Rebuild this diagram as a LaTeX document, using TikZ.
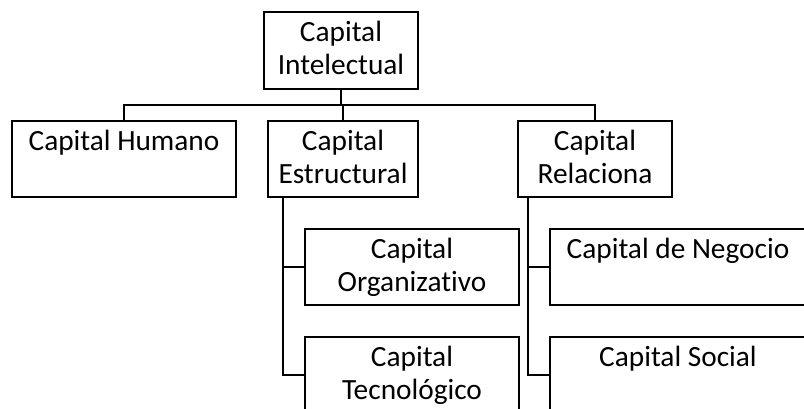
\documentclass[tikz,border=0pt]{standalone}
\usepackage{fontspec}
\setmainfont{Carlito}[Ligatures={NoCommon}]
\begin{document}
\begin{tikzpicture}[x=0.75pt,y=-0.75pt,
  line width=2pt,
  box/.style 2 args={draw, rectangle, anchor=north west, inner sep=0pt, outer sep=0pt,
    minimum width=#1*0.75pt, minimum height=#2*0.75pt},
  lbl/.style={anchor=north, yshift=-6pt, inner sep=0pt, align=center,
    font=\fontsize{22pt}{24.5pt}\selectfont},
  link/.style={draw, line width=2pt}
]
\useasboundingbox (0,0) rectangle (804,408);
\clip (0,0) rectangle (804,408);

% boxes
\node[box={154}{77}, label={[lbl]north:Capital\\Intelectual}] (top) at (264,12) {};
\node[box={224}{76}, label={[lbl]north:Capital Humano}] (hum) at (12,121) {};
\node[box={150}{76}, label={[lbl]north:Capital\\Estructural}] (est) at (268,121) {};
\node[box={154}{76}, label={[lbl]north:Capital\\Relaciona}] (rel) at (518,121) {};
\node[box={214}{76}, label={[lbl]north:Capital\\Organizativo}] (org) at (305,229) {};
\node[box={214}{76}, label={[lbl]north:Capital\\Tecnológico}] (tec) at (305,337) {};
\node[box={256}{76}, label={[lbl]north:Capital de Negocio}] (neg) at (550,229) {};
\node[box={256}{76}, label={[lbl]north:Capital Social}] (soc) at (550,337) {};

% first level: stem and bar
\coordinate (bar) at (0,105);
\path[link] (top.south) -- (top.south |- bar);
\path[link] (hum.north) -- (hum.north |- bar) -- (rel.north |- bar) -- (rel.north);
\path[link] (est.north) -- (est.north |- bar);

% second level spines
\coordinate (espine) at (283,196);
\coordinate (rspine) at (528,197);
\path[link] (espine) |- (org.west);
\path[link] (espine) |- (tec.west);
\path[link] (rspine) |- (neg.west);
\path[link] (rspine) |- (soc.west);
\end{tikzpicture}
\end{document}
